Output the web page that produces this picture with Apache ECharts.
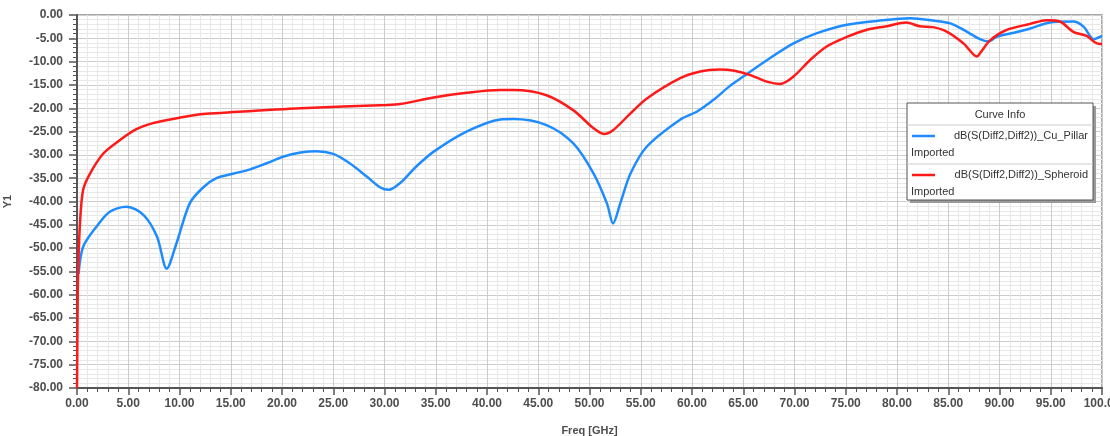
<!DOCTYPE html>
<html>
<head>
<meta charset="utf-8">
<title>S(Diff2,Diff2)</title>
<script src="https://cdn.jsdelivr.net/npm/echarts@6/dist/echarts.min.js"></script>
<style>
  html, body { margin: 0; padding: 0; background: #fff; }
  #chart { width: 1110px; height: 436px; }
</style>
</head>
<body>
<div id="chart"></div>
<script>
// Cu_Pillar curve (blue)
const cuFreq = [0.15, 0.6, 1.9, 3.2, 4.85, 6.5, 7.8, 8.75, 9.7, 11.0, 12.3, 13.6, 15.3, 16.9, 18.5, 20.1, 21.8, 23.4, 25.0, 26.6,
  28.3, 29.6, 30.4, 31.5, 33.1, 34.8, 38, 41.3, 42.6, 45.8, 48.4, 50.4, 51.7, 52.3, 53, 54, 55.6, 58.8, 60.5, 62.1,
  63.7, 65, 67.3, 69.9, 72.2, 75.1, 78.3, 81.3, 83.5, 85.2, 86.5, 88.1, 88.9, 89.7, 91.4, 93, 94.9, 97.2, 98.2, 99.2, 100];
const cuDb = [-55.5, -49.7, -45.4, -42.2, -41.1, -42.9, -47.5, -54.4, -49, -40.4, -37, -35, -34, -33.1, -31.8, -30.4, -29.5, -29.2, -29.8, -31.8,
  -34.7, -37, -37.5, -36.1, -32.5, -29.3, -25, -22.4, -22.3, -23.6, -27.5, -34, -40.4, -44.7, -40.4, -34, -28.2, -22.5, -20.7, -18.2,
  -15.2, -13.2, -9.7, -6.1, -3.9, -2.1, -1.2, -0.7, -1.2, -1.8, -3.2, -5.2, -5.7, -4.7, -3.8, -2.9, -1.6, -1.4, -2.5, -5.2, -4.5];

// Spheroid curve (red)
const sphFreq = [0, 0.05, 0.1, 0.29, 0.6, 1.27, 2.57, 4.2, 5.8, 7.4, 9.1, 12, 14, 21.8, 30.2, 31.5, 34.8, 38, 41.3, 42.6,
  45.8, 48.4, 50.4, 51.4, 52.3, 54, 55.6, 58.8, 60.8, 62.7, 64, 65.7, 67.3, 68.6, 69.9, 71.5, 73.1, 75.1, 77, 79,
  80.9, 82.2, 83.5, 84.8, 86.5, 87.8, 88.1, 89.1, 90.7, 93, 94.6, 95.9, 97.2, 98.5, 99.5, 100];
const sphDb = [-80, -66, -56, -44.7, -37.5, -34, -29.7, -26.8, -24.5, -23.2, -22.4, -21.3, -21.0, -20.0, -19.3, -19.1, -17.7, -16.7, -16.1, -16.1,
  -17.2, -20.4, -24.3, -25.5, -24.7, -21.1, -17.9, -13.6, -12.1, -11.7, -11.9, -12.9, -14.3, -14.8, -13.2, -9.7, -6.8, -4.7, -3.2, -2.4,
  -1.6, -2.4, -2.6, -3.5, -6.1, -8.9, -8.2, -5.4, -3.2, -1.9, -1.1, -1.4, -3.6, -4.5, -6.1, -6.2];

const seriesNames = ['dB(S(Diff2,Diff2))_Cu_Pillar', 'dB(S(Diff2,Diff2))_Spheroid'];
const seriesColors = ['#1e8cff', '#ff1a1a'];

const chart = echarts.init(document.getElementById('chart'));

const pairs = (xs, ys) => xs.map((x, i) => [x, ys[i]]);

const labelStyle = { color: '#4d4d4d', fontFamily: 'Liberation Sans, Arial', fontSize: 12, fontWeight: 'bold' };

// legend box drawn like the "Curve Info" panel
const lx = 907, ly = 103, lw = 186, lh = 97;
const legendGraphics = [
  { type: 'rect', shape: { x: lx + 3, y: ly + 3, width: lw, height: lh }, style: { fill: '#9a9a9a' }, z: 100 },
  { type: 'rect', shape: { x: lx, y: ly, width: lw, height: lh }, style: { fill: '#fff', stroke: '#555', lineWidth: 1 }, z: 101 },
  { type: 'text', x: lx + lw / 2, y: ly + 12, style: { text: 'Curve Info', align: 'center', verticalAlign: 'middle', font: '11px Liberation Sans, Arial', fill: '#333' }, z: 102 },
  { type: 'line', shape: { x1: lx, y1: ly + 22, x2: lx + lw, y2: ly + 22 }, style: { stroke: '#ccc', lineWidth: 1 }, z: 102 },
  { type: 'line', shape: { x1: lx, y1: ly + 61, x2: lx + lw, y2: ly + 61 }, style: { stroke: '#ccc', lineWidth: 1 }, z: 102 }
];
seriesNames.forEach((name, i) => {
  const top = ly + 22 + i * 39;
  legendGraphics.push(
    { type: 'line', shape: { x1: lx + 5, y1: top + 11, x2: lx + 28, y2: top + 11 }, style: { stroke: seriesColors[i], lineWidth: 2.5 }, z: 102 },
    { type: 'text', x: lx + lw - 5, y: top + 11, style: { text: name, align: 'right', verticalAlign: 'middle', font: '11px Liberation Sans, Arial', fill: '#333' }, z: 102 },
    { type: 'text', x: lx + 4, y: top + 28, style: { text: 'Imported', align: 'left', verticalAlign: 'middle', font: '11px Liberation Sans, Arial', fill: '#333' }, z: 102 }
  );
});

const option = {
  backgroundColor: '#fff',
  animation: false,
  grid: {
    left: 77, right: 8, top: 15, bottom: 48,
    outerBoundsMode: 'none',
    show: true, borderColor: '#8a8a8a', borderWidth: 1.5
  },
  xAxis: {
    type: 'value',
    min: 0, max: 100, interval: 5,
    name: 'Freq [GHz]',
    nameLocation: 'middle',
    nameGap: 37,
    nameTextStyle: { color: '#4d4d4d', fontFamily: 'Liberation Sans, Arial', fontSize: 11, fontWeight: 'bold' },
    axisLine: { onZero: false, lineStyle: { color: '#555', width: 2 } },
    axisTick: { length: 7, lineStyle: { color: '#555', width: 1.5 } },
    minorTick: { show: true, splitNumber: 5, length: 4, lineStyle: { color: '#555' } },
    axisLabel: Object.assign({ margin: 10, formatter: v => v.toFixed(2) }, labelStyle),
    splitLine: { lineStyle: { color: '#cccccc', width: 1 } },
    minorSplitLine: { show: true, lineStyle: { color: '#e8e8e8', width: 1 } }
  },
  yAxis: {
    type: 'value',
    min: -80, max: 0, interval: 5,
    name: 'Y1',
    nameLocation: 'middle',
    nameGap: 64,
    nameTextStyle: { color: '#4d4d4d', fontFamily: 'Liberation Sans, Arial', fontSize: 11, fontWeight: 'bold' },
    axisLine: { onZero: false, lineStyle: { color: '#555', width: 2 } },
    axisTick: { length: 8, lineStyle: { color: '#555', width: 1.5 } },
    minorTick: { show: true, splitNumber: 5, length: 4, lineStyle: { color: '#555' } },
    axisLabel: Object.assign({ margin: 14, formatter: v => v.toFixed(2) }, labelStyle),
    splitLine: { lineStyle: { color: '#cccccc', width: 1 } },
    minorSplitLine: { show: true, lineStyle: { color: '#e8e8e8', width: 1 } }
  },
  series: [
    {
      name: seriesNames[0],
      type: 'line',
      data: pairs(cuFreq, cuDb),
      showSymbol: false,
      smooth: 0.3,
      lineStyle: { color: seriesColors[0], width: 2.5 },
      z: 3
    },
    {
      name: seriesNames[1],
      type: 'line',
      data: pairs(sphFreq, sphDb),
      showSymbol: false,
      smooth: 0.3,
      lineStyle: { color: seriesColors[1], width: 2.5 },
      z: 4
    }
  ],
  graphic: legendGraphics
};

chart.setOption(option);
</script>
</body>
</html>
